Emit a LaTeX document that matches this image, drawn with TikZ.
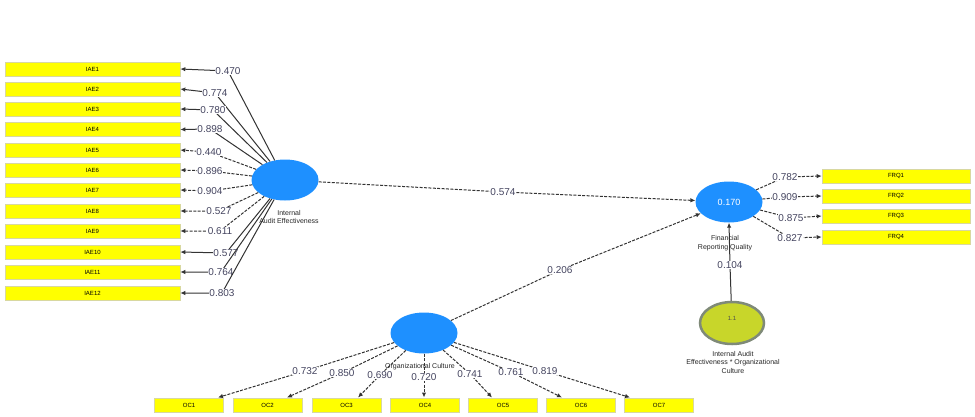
\documentclass[tikz,border=0pt]{standalone}
\usepackage{fontspec}
\setmainfont{Liberation Sans}
\usetikzlibrary{arrows.meta,shapes.geometric}
\definecolor{boxyel}{HTML}{FFFF00}
\definecolor{boxedge}{HTML}{D8D8A0}
\definecolor{lvblue}{HTML}{1E90FF}
\definecolor{lvmod}{HTML}{C8D62A}
\definecolor{lvmodedge}{HTML}{7F8A78}
\definecolor{conncol}{HTML}{333333}
\definecolor{numcol}{HTML}{454560}
\tikzset{
  ind/.style={draw=boxedge, line width=0.6pt, fill=boxyel, inner sep=0pt, minimum height=14pt, font=\fontsize{6}{7}\selectfont},
  indw/.style={ind, minimum width=175pt},
  indf/.style={ind, minimum width=148pt},
  indo/.style={ind, minimum width=69pt},
  lv/.style={ellipse, fill=lvblue, inner sep=0pt, minimum width=67pt, minimum height=41pt},
  lvm/.style={ellipse, fill=lvmod, draw=lvmodedge, line width=2.5pt, inner sep=0pt, minimum width=64pt, minimum height=42pt},
  conn/.style={draw=conncol, line width=1pt, -{Latex[length=5pt,width=4.5pt]}},
  dconn/.style={conn, dash pattern=on 3pt off 1.4pt},
  num/.style={fill=white, inner sep=0.6pt, text=numcol, font=\fontsize{10}{11}\selectfont},
  lvlab/.style={align=center, font=\fontsize{7}{8.5}\selectfont, text=black!85},
}
\begin{document}
\begin{tikzpicture}[x=1pt,y=-1pt]
\useasboundingbox (0,0) rectangle (975,416);
% latent variables
\node[lv] (iae) at (285,180) {};
\node[lv] (frq) at (729,202) {\fontsize{9}{10}\selectfont\color{white}0.170};
\node[lv] (oc) at (424,333) {};
\node[lvm] (mod) at (732,323) {\raisebox{9pt}{\fontsize{6}{7}\selectfont\color{black!70}1.1}};
% IAE indicators
\foreach \i/\y in {1/69,2/89,3/109,4/129.5,5/150,6/170,7/190,8/211,9/231,10/252,11/272,12/293}{
  \node[indw] (iae\i) at (92.5,\y) {IAE\i};
}
% FRQ indicators
\foreach \i/\y in {1/176,2/196,3/216,4/237}{
  \node[indf] (frq\i) at (896,\y) {FRQ\i};
}
% OC indicators
\foreach \i/\x in {1/189,2/267.5,3/346.5,4/425,5/503,6/581,7/659}{
  \node[indo] (oc\i) at (\x,405) {OC\i};
}
% IAE loadings
\foreach \i/\lx/\ly/\st/\v in {1/228/71/conn/0.470,2/215/93/conn/0.774,3/213/110/conn/0.780,4/210/129/conn/0.898,5/209/152/dconn/0.440,6/210/171/dconn/0.896,7/210/191/dconn/0.904,8/219/211/dconn/0.527,9/220/231/dconn/0.611,10/226/253/conn/0.577,11/221/272/conn/0.764,12/222/293/conn/0.803}{
  \coordinate (li\i) at (\lx,\ly);
  \draw[\st] (iae) -- (li\i) -- (iae\i.east);
  \node[num] at (li\i) {\v};
}
% FRQ loadings
\foreach \i/\lx/\ly/\v in {1/785/177/0.782,2/785/197/0.909,3/791/218/0.875,4/790/238/0.827}{
  \coordinate (lf\i) at (\lx,\ly);
  \draw[dconn] (frq) -- (lf\i) -- (frq\i.west);
  \node[num] at (lf\i) {\v};
}
% OC loadings
\foreach \i/\lx/\ly/\tx/\v in {1/305/371/218/0.732,2/342/373/287/0.850,3/380/375/358/0.690,4/424/377/424/0.720,5/470/374/492/0.741,6/511/372/562/0.761,7/545/371/630/0.819}{
  \coordinate (lo\i) at (\lx,\ly);
  \coordinate (to\i) at (\tx,397.5);
  \draw[dconn] (oc) -- (lo\i) -- (to\i);
  \node[num] at (lo\i) {\v};
}
% structural paths
\coordinate (p1) at (503,192);
\draw[dconn] (iae) -- (p1) -- (frq);
\node[num] at (p1) {0.574};
\coordinate (p2) at (560,270);
\draw[dconn] (oc) -- (p2) -- (frq);
\node[num] at (p2) {0.206};
\coordinate (p3) at (730,265);
\draw[conn] (mod) -- (p3) -- (frq.south);
\node[num] at (p3) {0.104};
% latent labels
\node[lvlab] (iaelab) at (289,217) {Internal\\Audit Effectiveness};
\node[lvlab] (frqlab) at (725,243) {Financial\\Reporting Quality};
\node[lvlab] (oclab) at (420,367) {Organizational Culture};
\node[lvlab] (modlab) at (733,362) {Internal Audit\\Effectiveness * Organizational\\Culture};
\end{tikzpicture}
\end{document}
